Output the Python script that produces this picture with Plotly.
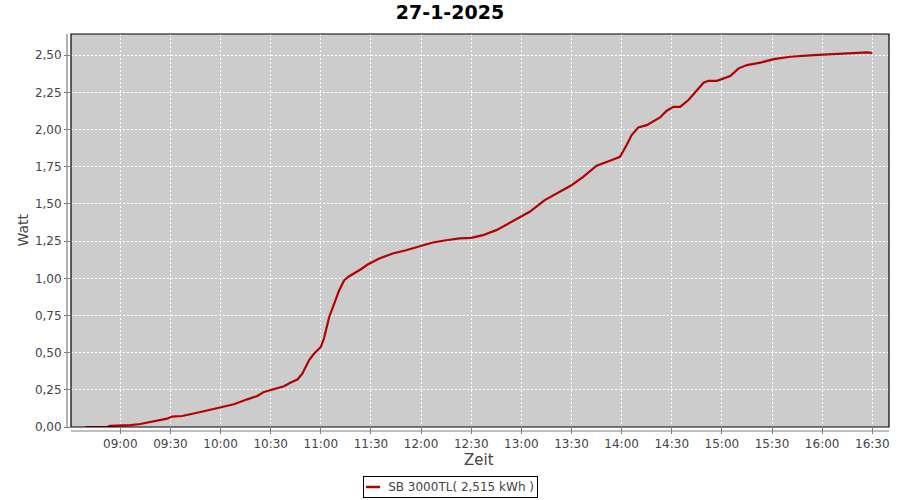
import plotly.graph_objects as go

DAY = "2025-01-27"
times = ["08:39","08:52","08:54","09:00","09:06","09:12","09:18","09:24","09:28","09:31",
         "09:37","09:48","09:54","10:00","10:08","10:16","10:22","10:26","10:30","10:38",
         "10:42","10:46","10:49","10:53","10:56","11:00","11:02","11:05","11:08","11:11",
         "11:14","11:17","11:24","11:28","11:35","11:43","11:51","12:00","12:07","12:15",
         "12:23","12:30","12:37","12:45","12:55","13:05","13:14","13:23","13:30","13:37",
         "13:45","13:55","13:59","14:03","14:06","14:10","14:15","14:23","14:27","14:31",
         "14:35","14:40","14:45","14:49","14:52","14:57","15:05","15:10","15:15","15:23",
         "15:31","15:41","15:55","16:15","16:27","16:30"]
values = [0.0,0.0,0.007,0.009,0.013,0.02,0.032,0.045,0.056,0.07,
          0.074,0.101,0.117,0.13,0.153,0.186,0.209,0.236,0.247,0.274,
          0.299,0.319,0.36,0.45,0.494,0.538,0.6,0.74,0.83,0.92,
          0.987,1.014,1.061,1.093,1.133,1.167,1.189,1.216,1.241,1.256,
          1.268,1.272,1.29,1.324,1.388,1.447,1.526,1.581,1.626,1.682,
          1.757,1.799,1.817,1.896,1.963,2.015,2.03,2.082,2.127,2.153,
          2.153,2.199,2.261,2.315,2.328,2.328,2.36,2.412,2.434,2.45,
          2.474,2.49,2.501,2.513,2.52,2.515]
series_name = "SB 3000TL( 2,515 kWh )"
title_text = "27-1-2025"
x_title = "Zeit"
y_title = "Watt"
y_ticks = [0, 0.25, 0.5, 0.75, 1.0, 1.25, 1.5, 1.75, 2.0, 2.25, 2.5]

x = [f"{DAY} {t}:00" for t in times]

FONT = "DejaVu Sans"
LINE_COLOR = "#b40000"
fig = go.Figure()
fig.add_trace(go.Scatter(x=x, y=values, mode="lines", name=series_name,
                         line=dict(color=LINE_COLOR, width=2.2), showlegend=False))

W, H = 900, 500
L, R, T, B = 71, 11, 34, 73
pw, ph = W - L - R, H - T - B


def px(xp):
    return (xp - L) / pw


def py(yp):
    return (T + ph - yp) / ph


fig.update_layout(
    width=W, height=H,
    margin=dict(l=L, r=R, t=T, b=B, autoexpand=False),
    paper_bgcolor="white", plot_bgcolor="#cccccc",
    separators=",.",
    font=dict(family=FONT, size=12, color="#444444"),
    title=dict(text=title_text, x=0.5, xref="container", xanchor="center",
               y=1 - 12 / H, yref="container", yanchor="middle",
               font=dict(family=FONT, size=19, color="black", weight="bold")),
    showlegend=False,
    xaxis=dict(type="date", range=[f"{DAY} 08:30:30", f"{DAY} 16:40:00"],
               dtick=30 * 60 * 1000, tick0=f"{DAY} 09:00:00", tickformat="%H:%M",
               showgrid=True, gridcolor="white", griddash="2px,2px", gridwidth=1,
               ticks="outside", ticklen=6, tickcolor="#808080",
               showline=False, zeroline=False, fixedrange=True, automargin=False,
               tickfont=dict(family=FONT, size=12, color="#444444")),
    yaxis=dict(range=[0, 2.643], tickvals=y_ticks, tickformat=".2f",
               showgrid=True, gridcolor="white", griddash="2px,2px", gridwidth=1,
               ticks="outside", ticklen=6, tickcolor="#808080",
               showline=False, zeroline=False, fixedrange=True, automargin=False,
               tickfont=dict(family=FONT, size=12, color="#444444")),
)

# plot frame and offset axis lines
fig.add_shape(type="rect", xref="paper", yref="paper", x0=0, y0=0, x1=1, y1=1,
              line=dict(color="black", width=1.2), layer="above")
fig.add_shape(type="line", xref="paper", yref="paper", x0=-4 / pw, x1=-4 / pw, y0=0, y1=1,
              line=dict(color="#808080", width=1.2))
fig.add_shape(type="line", xref="paper", yref="paper", x0=0, x1=1, y0=-4 / ph, y1=-4 / ph,
              line=dict(color="#808080", width=1.2))

fig.add_annotation(text=y_title, xref="paper", yref="paper", x=px(22), y=0.5,
                   textangle=-90, showarrow=False, xanchor="center", yanchor="middle",
                   font=dict(family=FONT, size=14, color="#444444"))
fig.add_annotation(text=x_title, xref="paper", yref="paper", x=px(479),
                   y=py(460), showarrow=False, xanchor="center", yanchor="middle",
                   font=dict(family=FONT, size=15, color="#444444"))

# legend box (drawn as bordered text with a line swatch)
fig.add_annotation(text=series_name, xref="paper", yref="paper", x=px(450.5), y=py(487),
                   showarrow=False, xanchor="center", yanchor="middle",
                   width=167, align="right", bordercolor="black", borderwidth=1,
                   borderpad=3, bgcolor="rgba(0,0,0,0)",
                   font=dict(family=FONT, size=12, color="#444444"))
fig.add_shape(type="line", xref="paper", yref="paper", x0=px(366), x1=px(380),
              y0=py(487), y1=py(487), line=dict(color=LINE_COLOR, width=2.5), layer="above")

fig.write_html("out.html", config={"displayModeBar": False},
               post_script="document.body.style.margin='0';document.body.style.overflow='hidden';")
